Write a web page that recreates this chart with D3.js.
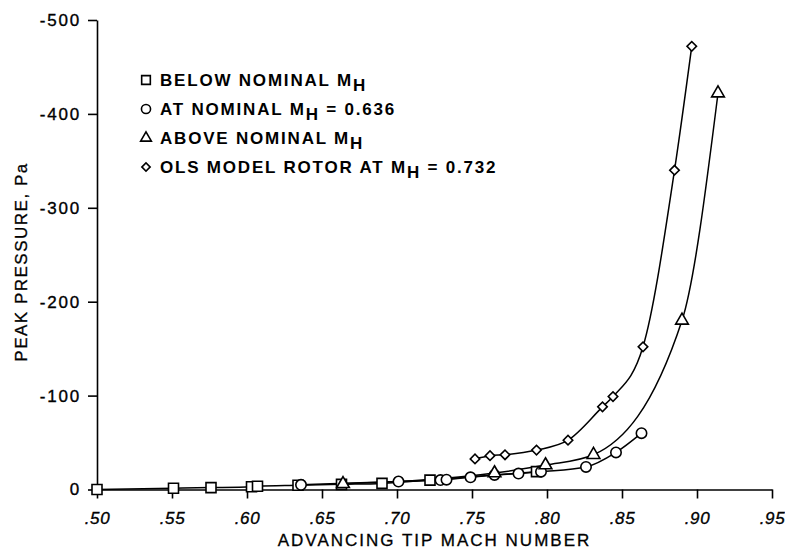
<!DOCTYPE html>
<html>
<head>
<meta charset="utf-8">
<script src="https://cdn.jsdelivr.net/npm/d3@7"></script>
<style>
  body { margin: 0; background: #fff; }
  svg { display: block; font-family: "Liberation Sans", Arial, Helvetica, sans-serif; }
  .axis path, .axis line { stroke: #000; stroke-width: 1.6; }
  .axis text { font-size: 17px; fill: #000; letter-spacing: 1.8px; stroke: #000; stroke-width: 0.35px; }
  .title { font-size: 17px; fill: #000; stroke: #000; stroke-width: 0.3px; }
  .series { fill: none; stroke: #000; stroke-width: 1.5; }
  .marker { fill: #fff; stroke: #000; stroke-width: 1.6; }
</style>
</head>
<body>
<svg id="chart" width="785" height="550"></svg>
<script>
// Peak pressure vs advancing tip Mach number
const xTicks = [0.50, 0.55, 0.60, 0.65, 0.70, 0.75, 0.80, 0.85, 0.90, 0.95];
const yTicks = [0, -100, -200, -300, -400, -500];

// below nominal M_H (squares)
const belowMach = [0.500, 0.551, 0.576, 0.603, 0.607, 0.634, 0.663, 0.690, 0.722, 0.793];
const belowPres = [0, -1.3, -2, -3, -3.5, -4.5, -5.5, -6.5, -10, -19];

// at nominal M_H = 0.636 (circles)
const atMach = [0.636, 0.701, 0.729, 0.733, 0.749, 0.765, 0.781, 0.796, 0.826, 0.846, 0.863];
const atPres = [-5, -8.5, -10, -10.5, -13, -15.5, -17, -19, -24, -39.5, -60];

// above nominal M_H (triangles)
const aboveMach = [0.664, 0.765, 0.799, 0.831, 0.890, 0.914];
const abovePres = [-6, -17.5, -26, -37, -180, -422];

// OLS model rotor at M_H = 0.732 (diamonds)
const olsMach = [0.752, 0.762, 0.772, 0.793, 0.814, 0.837, 0.844, 0.864, 0.885, 0.8965];
const olsPres = [-32.5, -36, -37, -42, -52.5, -88, -99, -152, -340, -472];

const seriesList = [
    { name: 'BELOW NOMINAL M', sub: 'H', after: '', shape: 'square', mach: belowMach, pres: belowPres },
    { name: 'AT NOMINAL M', sub: 'H', after: ' = 0.636', shape: 'circle', mach: atMach, pres: atPres },
    { name: 'ABOVE NOMINAL M', sub: 'H', after: '', shape: 'triangle', mach: aboveMach, pres: abovePres },
    { name: 'OLS MODEL ROTOR AT M', sub: 'H', after: ' = 0.732', shape: 'diamond', mach: olsMach, pres: olsPres }
];

const svg = d3.select('#chart');
const plotLeft = 97, plotRight = 772, plotTop = 20, plotBottom = 489.5;

const x = d3.scaleLinear().domain([0.50, 0.95]).range([plotLeft, plotRight]);
const y = d3.scaleLinear().domain([0, -500]).range([plotBottom, plotTop]);

// axes
svg.append('g')
    .attr('class', 'axis')
    .attr('transform', `translate(0,${plotBottom})`)
    .call(d3.axisBottom(x).tickValues(xTicks).tickSize(9).tickSizeOuter(0)
        .tickFormat(d => d3.format('.2f')(d).replace(/^0/, '')))
    .call(g => g.selectAll('text')
        .attr('dy', '1.35em')
        .style('font-style', 'italic')
        .style('letter-spacing', '0.6px'));

svg.append('g')
    .attr('class', 'axis')
    .attr('transform', `translate(${plotLeft},0)`)
    .call(d3.axisLeft(y).tickValues(yTicks).tickSize(9).tickSizeOuter(0)
        .tickFormat(d => d === 0 ? '0' : '-' + Math.abs(d)))
    .call(g => g.selectAll('text').attr('x', -16));

// axis titles
svg.append('text')
    .attr('class', 'title')
    .attr('x', (plotLeft + plotRight) / 2)
    .attr('y', 546)
    .attr('text-anchor', 'middle')
    .style('letter-spacing', '2px')
    .text('ADVANCING TIP MACH NUMBER');

svg.append('text')
    .attr('class', 'title')
    .attr('transform', 'translate(27,262) rotate(-90)')
    .attr('text-anchor', 'middle')
    .style('letter-spacing', '1.5px')
    .text('PEAK PRESSURE, Pa');

// marker shapes
const symbols = {
    square: d3.symbol().type(d3.symbolSquare).size(100),
    circle: d3.symbol().type(d3.symbolCircle).size(85),
    triangle: d3.symbol().type(d3.symbolTriangle).size(70),
    diamond: d3.symbol().type(d3.symbolSquare).size(45)
};
const rotation = { square: 0, circle: 0, triangle: 0, diamond: 45 };

const line = d3.line()
    .x(d => x(d[0]))
    .y(d => y(d[1]))
    .curve(d3.curveMonotoneX);

const lineGroup = svg.append('g');
const markerGroup = svg.append('g');

seriesList.forEach(s => {
    const pts = s.mach.map((m, i) => [m, s.pres[i]]);
    lineGroup.append('path')
        .attr('class', 'series')
        .attr('d', line(pts));
    markerGroup.selectAll(null)
        .data(pts)
        .enter()
        .append('path')
        .attr('class', 'marker')
        .attr('d', symbols[s.shape])
        .attr('transform', d => `translate(${x(d[0])},${y(d[1])}) rotate(${rotation[s.shape]})`);
});

// legend
const legendSymbols = {
    square: d3.symbol().type(d3.symbolSquare).size(75),
    circle: d3.symbol().type(d3.symbolCircle).size(65),
    triangle: d3.symbol().type(d3.symbolTriangle).size(50),
    diamond: d3.symbol().type(d3.symbolSquare).size(34)
};

const legend = svg.append('g');
seriesList.forEach((s, i) => {
    const ly = 80 + i * 29;
    legend.append('path')
        .attr('class', 'marker')
        .attr('stroke-width', 1.4)
        .attr('d', legendSymbols[s.shape])
        .attr('transform', `translate(146,${ly}) rotate(${rotation[s.shape]})`);
    const t = legend.append('text')
        .attr('x', 160)
        .attr('y', ly + 6)
        .style('font-size', '17px')
        .style('font-weight', 'bold')
        .style('letter-spacing', '1.8px');
    t.append('tspan').text(s.name);
    t.append('tspan').attr('dy', 5).text(s.sub);
    if (s.after) t.append('tspan').attr('dy', -5).text(s.after);
});
</script>
</body>
</html>
